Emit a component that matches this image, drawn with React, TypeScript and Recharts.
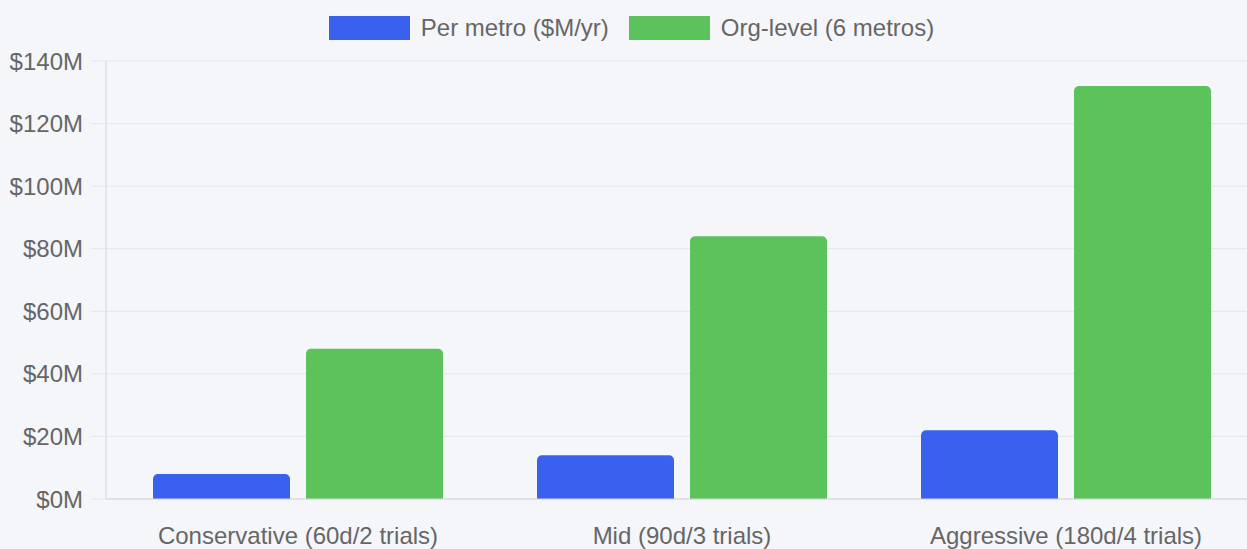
import { BarChart, Bar, XAxis, YAxis, CartesianGrid, Legend } from 'recharts'

const categories = [
  'Conservative (60d/2 trials)',
  'Mid (90d/3 trials)',
  'Aggressive (180d/4 trials)',
]
const perMetro = [8, 14, 22]
const orgLevel = [48, 84, 132]
const yTicks = [0, 20, 40, 60, 80, 100, 120, 140]

const seriesNames = ['Per metro ($M/yr)', 'Org-level (6 metros)']
const colors = ['#3a61ee', '#5cc35c']

const chartData = categories.map((name, i) => ({
  name,
  perMetro: perMetro[i],
  orgLevel: orgLevel[i],
}))

const font = '"Liberation Sans", Arial, Helvetica, sans-serif'

function LegendRow(props: any) {
  // keep series order, recharts sorts legend items by name
  const items = [...(props.payload || [])].sort(
    (a: any, b: any) => seriesNames.indexOf(a.value) - seriesNames.indexOf(b.value)
  )
  return (
    <div style={{ display: 'flex', justifyContent: 'center', alignItems: 'center', gap: 20 }}>
      {items.map((it: any) => (
        <div key={it.value} style={{ display: 'flex', alignItems: 'center' }}>
          <span style={{ display: 'inline-block', width: 81, height: 24, background: it.color, marginRight: 11 }} />
          <span style={{ fontSize: 24, color: '#666', fontFamily: font, lineHeight: '24px' }}>{it.value}</span>
        </div>
      ))}
    </div>
  )
}

export default function App() {
  return (
    <div
      style={{
        position: 'absolute',
        left: 0,
        top: 0,
        width: 1247,
        height: 549,
        overflow: 'hidden',
        background: '#f5f6fa',
        fontFamily: font,
      }}
    >
      <BarChart
        width={1263}
        height={549}
        data={chartData}
        margin={{ top: 61, right: 5, left: 0, bottom: 0 }}
        barCategoryGap={47}
        barGap={16}
      >
        <CartesianGrid vertical={false} stroke="#e3e5ec" />
        <XAxis
          dataKey="name"
          height={50}
          tickLine={false}
          tickSize={0}
          tickMargin={28}
          axisLine={{ stroke: '#d3d5db' }}
          tick={{ fill: '#666', fontSize: 24, fontFamily: font }}
          interval={0}
        />
        <YAxis
          width={106}
          domain={[0, 140]}
          ticks={yTicks}
          tickSize={15}
          tickMargin={8}
          tickLine={{ stroke: '#e3e5ec' }}
          axisLine={{ stroke: '#d3d5db' }}
          tickFormatter={(v: number) => `$${v}M`}
          tick={{ fill: '#666', fontSize: 24, fontFamily: font }}
        />
        <Legend
          verticalAlign="middle"
          align="center"
          content={<LegendRow />}
          wrapperStyle={{ top: 16, left: 0, width: 1263, height: 24 }}
        />
        <Bar dataKey="perMetro" name={seriesNames[0]} fill={colors[0]} radius={[5, 5, 0, 0]} isAnimationActive={false} />
        <Bar dataKey="orgLevel" name={seriesNames[1]} fill={colors[1]} radius={[5, 5, 0, 0]} isAnimationActive={false} />
      </BarChart>
    </div>
  )
}
